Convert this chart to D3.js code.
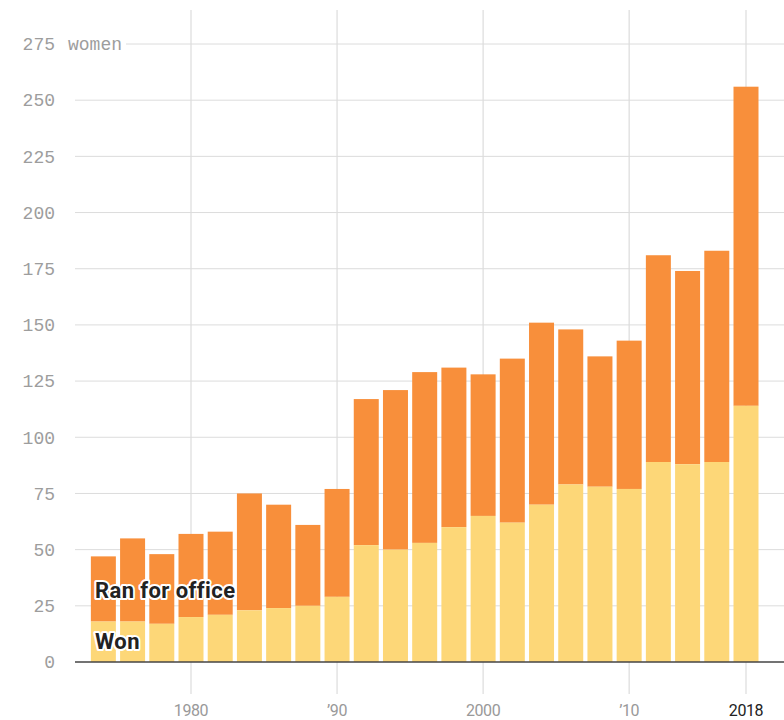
<!DOCTYPE html>
<html><head><meta charset="utf-8">
<script src="https://cdn.jsdelivr.net/npm/d3@7"></script>
<style>body{margin:0;background:#fff}svg{display:block}</style>
</head><body>
<svg id="c" width="784" height="720"></svg>
<script>
const years = [1974,1976,1978,1980,1982,1984,1986,1988,1990,1992,1994,1996,1998,2000,2002,2004,2006,2008,2010,2012,2014,2016,2018];
const ran   = [47,55,48,57,58,75,70,61,77,117,121,129,131,128,135,151,148,136,143,181,174,183,256];
const won   = [18,18,17,20,21,23,24,25,29,52,50,53,60,65,62,70,79,78,77,89,88,89,114];
const yTicks = [0,25,50,75,100,125,150,175,200,225,250,275];
const xTicks = [1980,1990,2000,2010,2018];
const xTickLabels = ["1980","\u201990","2000","\u201910","2018"];

const svg = d3.select("#c");
const x = d3.scaleLinear().domain([1980,2018]).range([191,746]);
const y = d3.scaleLinear().domain([0,275]).range([662,44]);
const barW = 25;

// horizontal gridlines
svg.append("g").selectAll("line").data(yTicks.filter(d=>d>0)).join("line")
  .attr("x1", d=> d===275 ? 126 : 75).attr("x2",784)
  .attr("y1", d=>y(d)).attr("y2", d=>y(d))
  .attr("stroke","#dcdcdc").attr("stroke-width",1);

// vertical gridlines
svg.append("g").selectAll("line").data(xTicks).join("line")
  .attr("x1", d=>x(d)).attr("x2", d=>x(d))
  .attr("y1", 10).attr("y2", 694)
  .attr("stroke","#dcdcdc").attr("stroke-width",1.2);

// y labels
svg.append("g").selectAll("text").data(yTicks).join("text")
  .attr("x",55).attr("y", d=>y(d)).attr("dy","0.35em")
  .attr("text-anchor","end")
  .attr("font-family","'Liberation Mono', monospace").attr("font-size",18)
  .attr("fill","#9d9d9d").text(d=>d);
svg.append("text").attr("x",68).attr("y",y(275)).attr("dy","0.35em")
  .attr("font-family","'Liberation Mono', monospace").attr("font-size",18)
  .attr("fill","#9d9d9d").text("women");

// bars
const g = svg.append("g");
g.selectAll("rect.ran").data(years).join("rect").attr("class","ran")
  .attr("x",(d)=>x(d)-barW/2).attr("width",barW)
  .attr("y",(d,i)=>y(ran[i])).attr("height",(d,i)=>y(won[i])-y(ran[i]))
  .attr("fill","#f88f3b");
g.selectAll("rect.won").data(years).join("rect").attr("class","won")
  .attr("x",(d)=>x(d)-barW/2).attr("width",barW)
  .attr("y",(d,i)=>y(won[i])).attr("height",(d,i)=>y(0)-y(won[i]))
  .attr("fill","#fdd778");

// axis line
svg.append("line").attr("x1",75).attr("x2",784).attr("y1",y(0)).attr("y2",y(0))
  .attr("stroke","#444").attr("stroke-width",1.5);

// x labels
svg.append("g").selectAll("text").data(xTicks).join("text")
  .attr("x", d=>x(d)).attr("y",716).attr("text-anchor","middle")
  .attr("font-family","Roboto, sans-serif").attr("font-size",16)
  .attr("letter-spacing","-0.4")
  .attr("fill",(d,i)=> i===xTicks.length-1 ? "#222" : "#999")
  .text((d,i)=>xTickLabels[i]);

// series labels
const lab = [{t:"Ran for office", v:28.5},{t:"Won", v:5.8}];
svg.append("g").selectAll("text").data(lab).join("text")
  .attr("x",95).attr("y",d=>y(d.v))
  .attr("font-family","Roboto, sans-serif").attr("font-weight","bold").attr("font-size",22)
  .attr("letter-spacing","0.4")
  .attr("fill","#222").attr("stroke","#fff").attr("stroke-width",4)
  .attr("stroke-linejoin","round").attr("paint-order","stroke")
  .text(d=>d.t);
</script>
</body></html>
